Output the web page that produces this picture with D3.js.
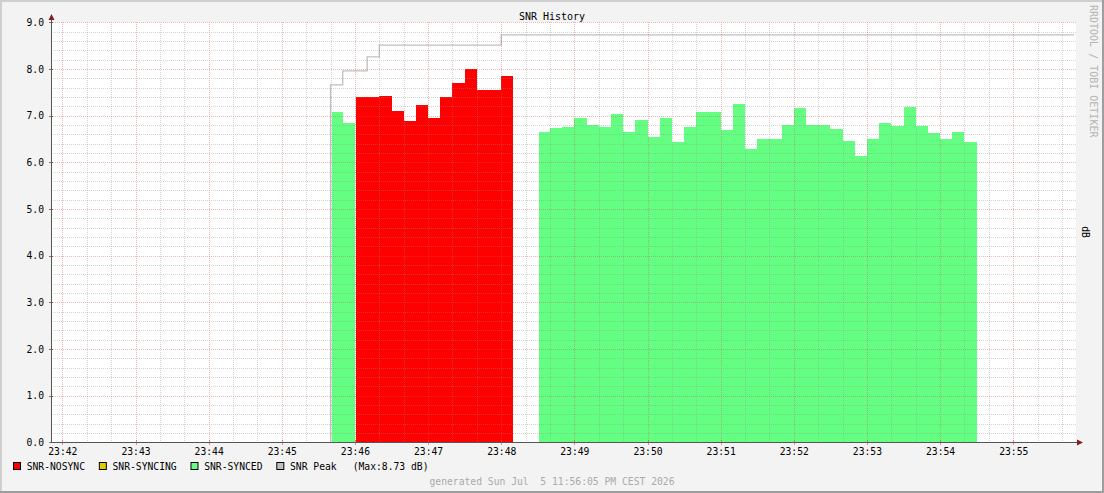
<!DOCTYPE html>
<html><head><meta charset="utf-8">
<script src="https://cdn.jsdelivr.net/npm/d3@7"></script>
<style>
html,body{margin:0;padding:0;background:#f3f3f3;}
svg{display:block;}
text{font-family:"DejaVu Sans Mono",monospace;}
</style></head><body>
<svg id="chart" width="1104" height="493"></svg>
<script>
// ---------------- data ----------------
const chartTitle = "SNR History";
const unitLabel = "dB";
const watermark = "RRDTOOL / TOBI OETIKER";
const footerText = "generated Sun Jul  5 11:56:05 PM CEST 2026";
const windowStart = "23:41:51";
const windowEnd = "23:55:51";
const slotStart = "23:45:40";
const stepSeconds = 10;
// one value per 10-second slot, starting at slotStart (null = no data)
const snrNosync = [null, null,
  7.41, 7.41, 7.43, 7.10, 6.88, 7.22, 6.95, 7.41, 7.70, 7.99, 7.54, 7.54, 7.84,
  null, null,
  null, null, null, null, null, null, null, null, null, null, null, null,
  null, null, null, null, null, null, null, null, null, null, null, null,
  null, null, null, null, null, null, null, null, null, null, null, null];
const snrSyncing = [];
const snrSynced = [7.08, 6.84,
  null, null, null, null, null, null, null, null, null, null, null, null, null,
  null, null,
  6.66, 6.73, 6.75, 6.96, 6.81, 6.75, 7.03, 6.64, 6.90, 6.54, 6.94, 6.43,
  6.75, 7.07, 7.07, 6.69, 7.24, 6.28, 6.49, 6.51, 6.79, 7.16, 6.81, 6.79,
  6.71, 6.45, 6.13, 6.49, 6.84, 6.78, 7.18, 6.78, 6.62, 6.49, 6.64, 6.43];
const peakTimes = ["23:45:40", "23:45:50", "23:46:10", "23:46:20", "23:48:00", "23:55:50"];
const peakValues = [7.66, 7.96, 8.26, 8.51, 8.73, 8.73];
const peakMax = "8.73";
const xTickLabels = ["23:42","23:43","23:44","23:45","23:46","23:47","23:48","23:49","23:50","23:51","23:52","23:53","23:54","23:55"];
const yTickLabels = ["0.0","1.0","2.0","3.0","4.0","5.0","6.0","7.0","8.0","9.0"];
const legendLabels = ["SNR-NOSYNC", "SNR-SYNCING", "SNR-SYNCED", "SNR Peak"];

// ---------------- drawing ----------------
const W = 1104, H = 493;
const colNosync = "#ff0000", colSyncing = "#e0cc00", colSynced = "#64ff82", colPeak = "#c0c0c0";
const toSec = s => { const p = s.split(":").map(Number); return p[0]*3600 + p[1]*60 + (p[2]||0); };

const svg = d3.select("#chart");
const pL = 51, pR = 1076, pT = 22, pB = 442;

const x = d3.scaleLinear().domain([toSec(windowStart), toSec(windowEnd)]).range([51.4, 1075.4]);
const y = d3.scaleLinear().domain([0, 9]).range([442.3, 22.3]);

// background and border
svg.append("rect").attr("x",0).attr("y",0).attr("width",W).attr("height",H).attr("fill","#f3f3f3");
svg.append("path").attr("d",`M0,0H${W}V2H2V${H}H0Z`).attr("fill","#cfcfcf");
svg.append("path").attr("d",`M${W},${H}H0V${H-2}H${W-2}V0H${W}Z`).attr("fill","#9e9e9e");
// canvas
svg.append("rect").attr("x",pL).attr("y",pT).attr("width",pR-pL).attr("height",pB-pT).attr("fill","#ffffff");

// areas
const t0 = toSec(slotStart);
function drawSeries(vals, color) {
  const g = svg.append("g").attr("shape-rendering","crispEdges");
  vals.forEach((v, i) => {
    if (v == null) return;
    const segStart = (i === 0 || vals[i-1] == null);
    const xa = x(t0 + i*stepSeconds) + (segStart ? 1 : 0);
    const xb = x(t0 + (i+1)*stepSeconds);
    g.append("rect").attr("x", xa).attr("y", y(v)).attr("width", xb - xa)
      .attr("height", y(0) - y(v)).attr("fill", color);
  });
}
drawSeries(snrNosync, colNosync);
drawSeries(snrSyncing, colSyncing);
drawSeries(snrSynced, colSynced);

// peak line
const peakPts = [[toSec(peakTimes[0]), 0]].concat(peakTimes.map((t,i)=>[toSec(t), peakValues[i]]));
svg.append("path")
  .attr("d", d3.line().x(d=>x(d[0])).y(d=>y(d[1])).curve(d3.curveStepAfter)(peakPts))
  .attr("fill","none").attr("stroke",colPeak).attr("stroke-width",1.3);

// grid
const grid = svg.append("g");
const minorX = [];
for (let t = toSec("23:42"); t <= toSec(windowEnd); t += 20) minorX.push(t);
const majorX = xTickLabels.map(toSec);
const minorY = d3.range(0, 46).map(i => i*0.2).filter(v => v <= 9.0001 && Math.abs(v - Math.round(v)) > 1e-6);
const majorY = yTickLabels.map(Number);
const px = v => Math.round(v) + 0.5;
minorX.filter(t => !majorX.includes(t)).forEach(t => {
  grid.append("line").attr("x1",px(x(t))).attr("x2",px(x(t))).attr("y1",pT).attr("y2",pB)
    .attr("stroke","rgba(143,143,143,0.75)").attr("stroke-width",0.5).attr("stroke-dasharray","1,1");
});
minorY.forEach(v => {
  grid.append("line").attr("x1",pL).attr("x2",pR).attr("y1",px(y(v))).attr("y2",px(y(v)))
    .attr("stroke","rgba(143,143,143,0.75)").attr("stroke-width",0.5).attr("stroke-dasharray","1,1");
});
majorX.forEach(t => {
  grid.append("line").attr("x1",px(x(t))).attr("x2",px(x(t))).attr("y1",pT).attr("y2",pB)
    .attr("stroke","rgba(222,80,80,0.6)").attr("stroke-width",0.7).attr("stroke-dasharray","1,1");
});
majorY.forEach(v => {
  grid.append("line").attr("x1",pL).attr("x2",pR).attr("y1",px(y(v))).attr("y2",px(y(v)))
    .attr("stroke","rgba(222,80,80,0.6)").attr("stroke-width",0.7).attr("stroke-dasharray","1,1");
});

// ticks on axes
majorY.forEach(v => {
  svg.append("line").attr("x1",pL-2).attr("x2",pL+2).attr("y1",px(y(v))).attr("y2",px(y(v)))
    .attr("stroke","#555").attr("stroke-width",0.8);
});
majorX.forEach(t => {
  svg.append("line").attr("x1",px(x(t))).attr("x2",px(x(t))).attr("y1",pB-2).attr("y2",pB+3)
    .attr("stroke","rgba(222,80,80,0.8)").attr("stroke-width",0.8);
});

// axes
svg.append("line").attr("x1",51.5).attr("x2",51.5).attr("y1",pB+0.5).attr("y2",19)
  .attr("stroke","#555").attr("stroke-width",1);
svg.append("line").attr("x1",51).attr("x2",1078).attr("y1",pB+0.5).attr("y2",pB+0.5)
  .attr("stroke","#555").attr("stroke-width",1);
svg.append("path").attr("d","M48.5,20L54.5,20L51.5,14Z").attr("fill","#801f1f");
svg.append("path").attr("d",`M1077,${pB-2.5}L1077,${pB+3.5}L1083,${pB+0.5}Z`).attr("fill","#801f1f");

// axis labels
const fs = "9.7px";
yTickLabels.forEach((lab, i) => {
  svg.append("text").attr("x",44).attr("y",y(majorY[i]) + 3.7).attr("text-anchor","end")
    .attr("font-size",fs).attr("fill","#000").text(lab);
});
xTickLabels.forEach((lab, i) => {
  svg.append("text").attr("x",x(majorX[i]) + 0.5).attr("y",455).attr("text-anchor","middle")
    .attr("font-size",fs).attr("fill","#000").text(lab);
});

// title
svg.append("text").attr("x",W/2).attr("y",19.5).attr("text-anchor","middle")
  .attr("font-size","10px").attr("fill","#000").text(chartTitle);

// watermark & unit
svg.append("text").attr("transform","translate(1090,5) rotate(90)")
  .attr("font-size","10px").attr("fill","#b4b4b4").text(watermark);
svg.append("text").attr("transform",`translate(1081.5,${(pT+pB)/2}) rotate(90)`)
  .attr("text-anchor","middle").attr("font-size",fs).attr("fill","#000").text(unitLabel);

// legend
const legendColors = [colNosync, colSyncing, colSynced, colPeak];
let lx = 13.5;
legendLabels.forEach((lab, i) => {
  svg.append("rect").attr("x",lx).attr("y",462.5).attr("width",7).attr("height",7)
    .attr("fill",legendColors[i]).attr("stroke","#000").attr("stroke-width",1);
  const t = svg.append("text").attr("x",lx+13.2).attr("y",470).attr("font-size",fs)
    .attr("fill","#000").text(lab);
  const w = t.node().getComputedTextLength();
  if (i === legendLabels.length - 1) {
    svg.append("text").attr("x",lx+13.2+w+16).attr("y",470).attr("font-size",fs)
      .attr("fill","#000").text(`(Max:${peakMax} dB)`);
  }
  lx = lx + 13.2 + w + 14.3;
});

// footer
svg.append("text").attr("x",W/2).attr("y",484.5).attr("text-anchor","middle")
  .attr("font-size",fs).attr("fill","#aaaaaa")
  .style("white-space","pre").text(footerText);
</script>
</body></html>
